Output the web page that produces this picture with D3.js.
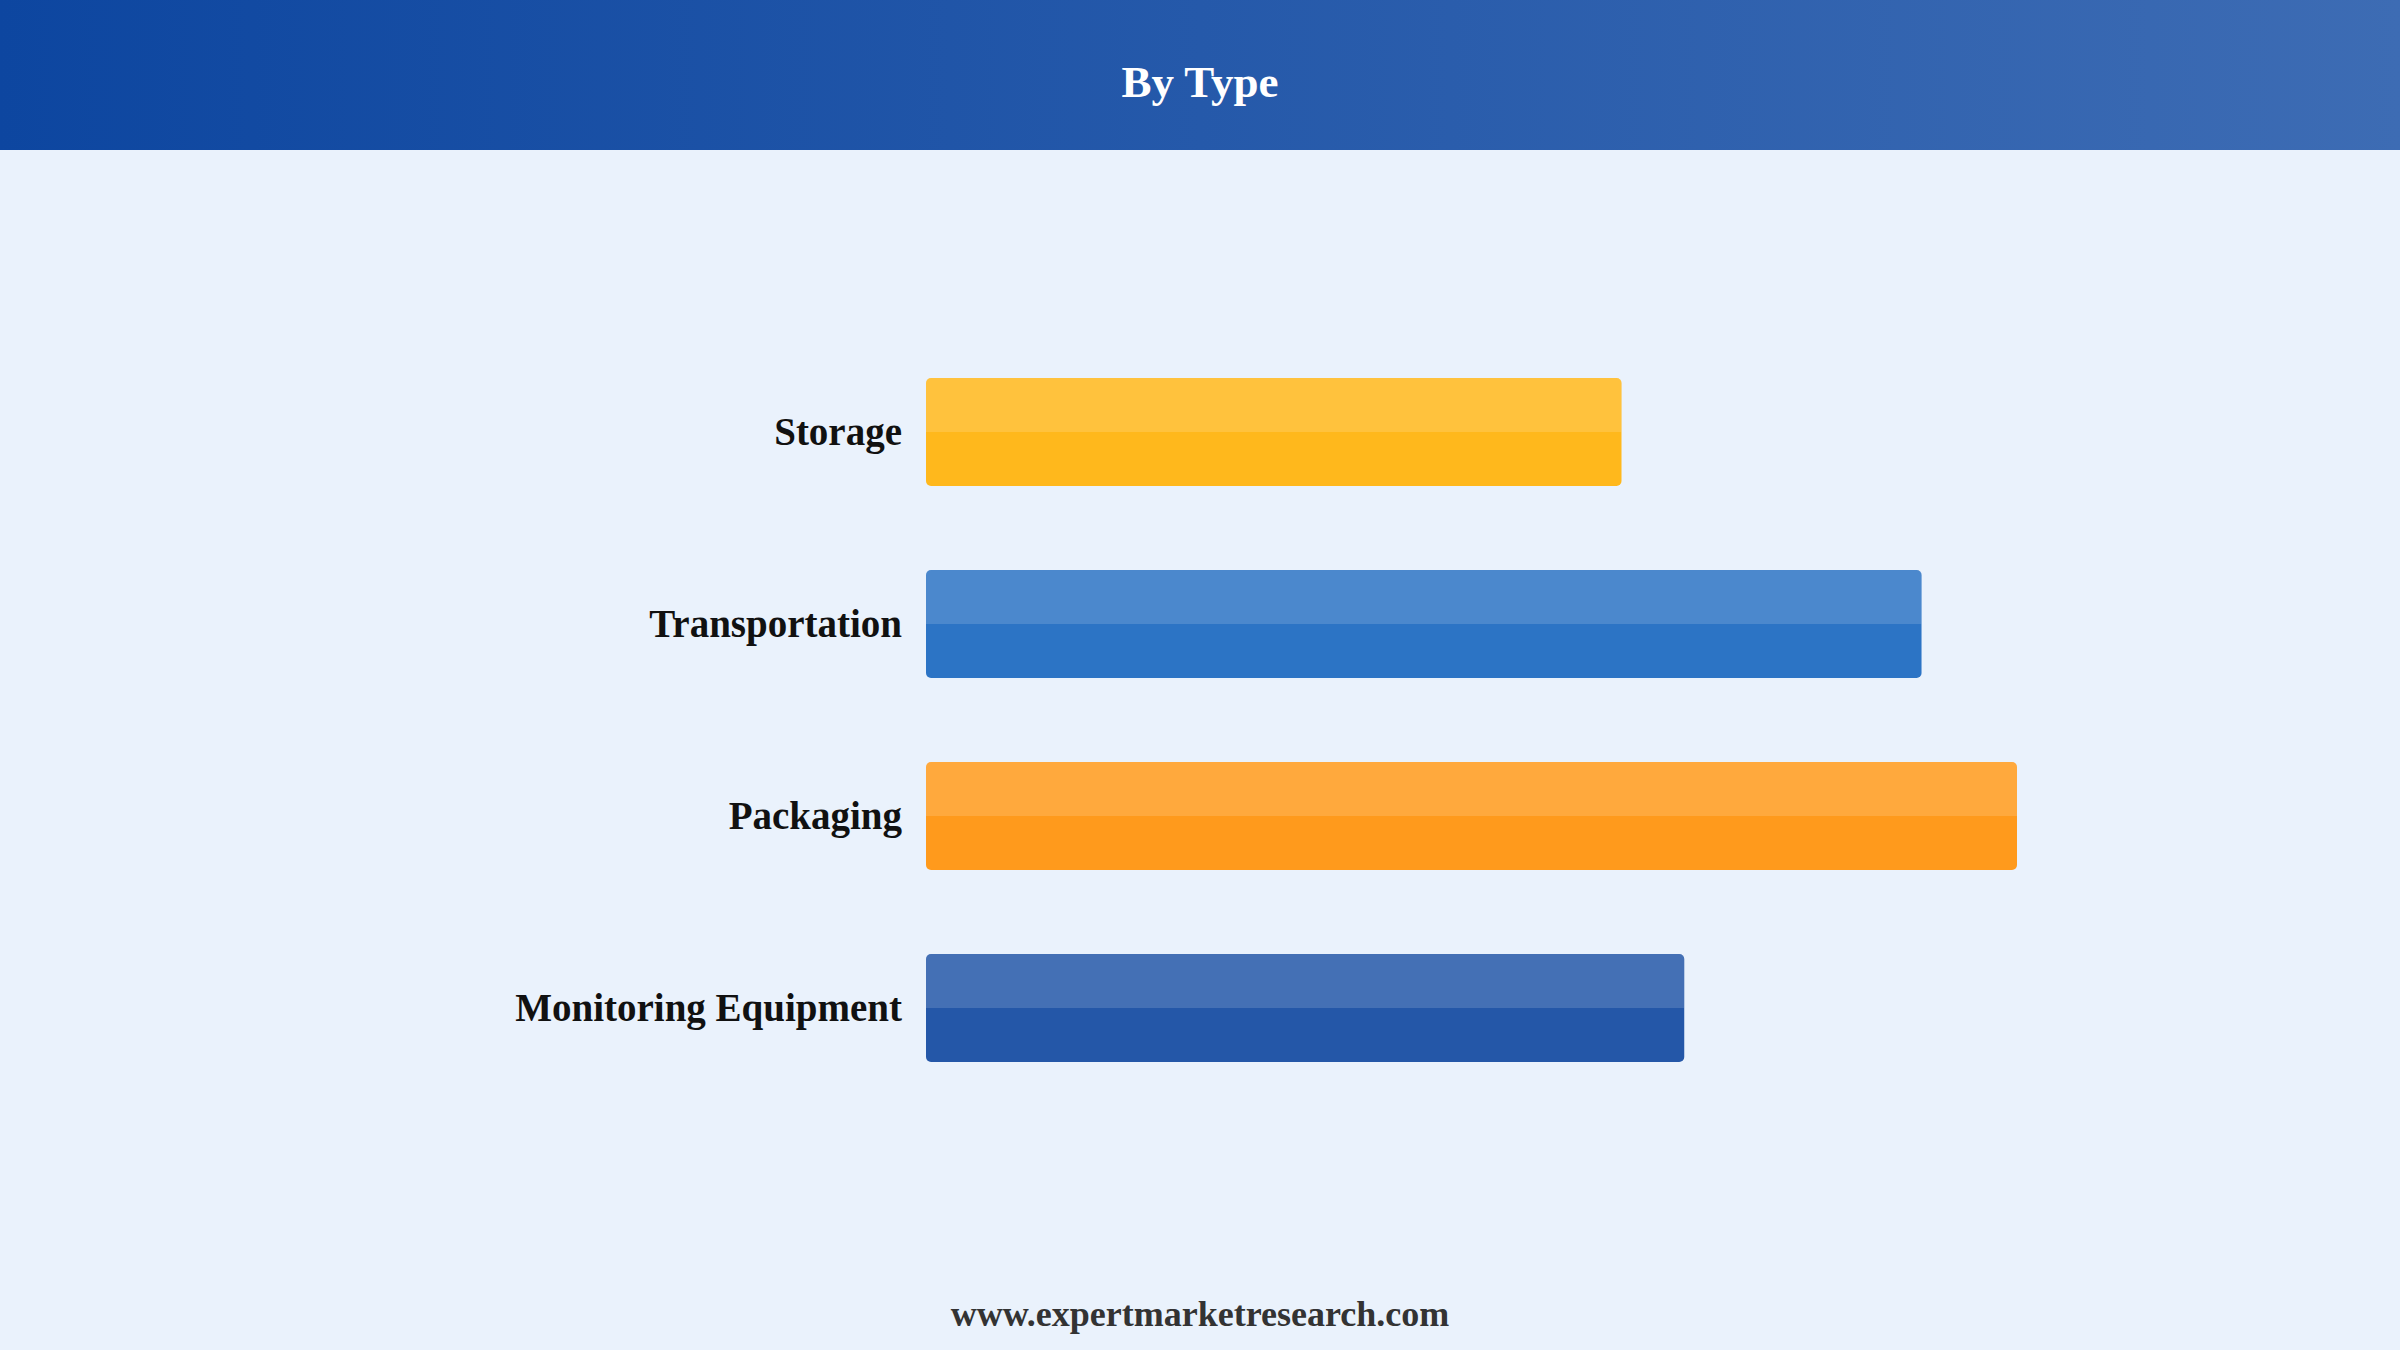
<!DOCTYPE html>
<html>
<head>
<meta charset="utf-8">
<script src="https://cdn.jsdelivr.net/npm/d3@7"></script>
<style>
  html, body { margin: 0; padding: 0; background: #EAF2FC; }
  svg { display: block; }
</style>
</head>
<body>
<svg id="chart" width="2400" height="1350"></svg>
<script>
// ---- data ----
const categories = ["Storage", "Transportation", "Packaging", "Monitoring Equipment"];
const values = [25.5, 36.5, 40, 27.8];
const barColors = ["#FFB81C", "#2C74C5", "#FF9A1C", "#2457A8"];
const title = "By Type";
const footer = "www.expertmarketresearch.com";

const W = 2400, H = 1350;
const svg = d3.select("#chart");
const defs = svg.append("defs");

// background
svg.append("rect").attr("width", W).attr("height", H).attr("fill", "#EAF2FC");

// header gradient
const grad = defs.append("linearGradient").attr("id", "hdr").attr("x1", "0%").attr("x2", "100%");
grad.append("stop").attr("offset", "0%").attr("stop-color", "#0D46A0");
grad.append("stop").attr("offset", "100%").attr("stop-color", "#3D6CB4");
svg.append("rect").attr("width", W).attr("height", 150).attr("fill", "url(#hdr)");
svg.append("text")
  .attr("x", W / 2).attr("y", 97)
  .attr("text-anchor", "middle")
  .attr("font-family", "'Liberation Serif', 'Times New Roman', serif")
  .attr("font-weight", "bold").attr("font-size", 45)
  .attr("fill", "#ffffff")
  .text(title);

// scales
const x = d3.scaleLinear().domain([0, 40]).range([926, 2017]);
const y = d3.scaleBand().domain(categories).range([336, 1104])
  .paddingInner(0.4375).paddingOuter(0.21875);

const data = categories.map((c, i) => ({ cat: c, val: values[i], color: barColors[i] }));

const g = svg.append("g");
const bars = g.selectAll("g.bar").data(data).join("g").attr("class", "bar");

bars.each(function (d, i) {
  const sel = d3.select(this);
  const bx = x(0), by = y(d.cat), bw = x(d.val) - x(0), bh = y.bandwidth();
  const cid = "clip" + i;
  defs.append("clipPath").attr("id", cid)
    .append("rect").attr("x", bx).attr("y", by).attr("width", bw).attr("height", bh).attr("rx", 5).attr("ry", 5);
  sel.append("rect")
    .attr("x", bx).attr("y", by).attr("width", bw).attr("height", bh)
    .attr("rx", 5).attr("ry", 5)
    .attr("fill", d.color);
  sel.append("rect")
    .attr("clip-path", `url(#${cid})`)
    .attr("x", bx).attr("y", by).attr("width", bw).attr("height", bh / 2)
    .attr("fill", "#ffffff").attr("fill-opacity", 0.15);
});

// category labels
g.selectAll("text.lab").data(data).join("text").attr("class", "lab")
  .attr("x", x(0) - 24)
  .attr("y", d => y(d.cat) + y.bandwidth() / 2)
  .attr("dy", "0.33em")
  .attr("text-anchor", "end")
  .attr("font-family", "'Liberation Serif', 'Times New Roman', serif")
  .attr("font-weight", "bold").attr("font-size", 39)
  .attr("fill", "#111111")
  .text(d => d.cat);

// footer
svg.append("text")
  .attr("x", W / 2).attr("y", 1326)
  .attr("text-anchor", "middle")
  .attr("font-family", "'Liberation Serif', 'Times New Roman', serif")
  .attr("font-weight", "bold").attr("font-size", 36)
  .attr("fill", "#333333")
  .text(footer);
</script>
</body>
</html>
